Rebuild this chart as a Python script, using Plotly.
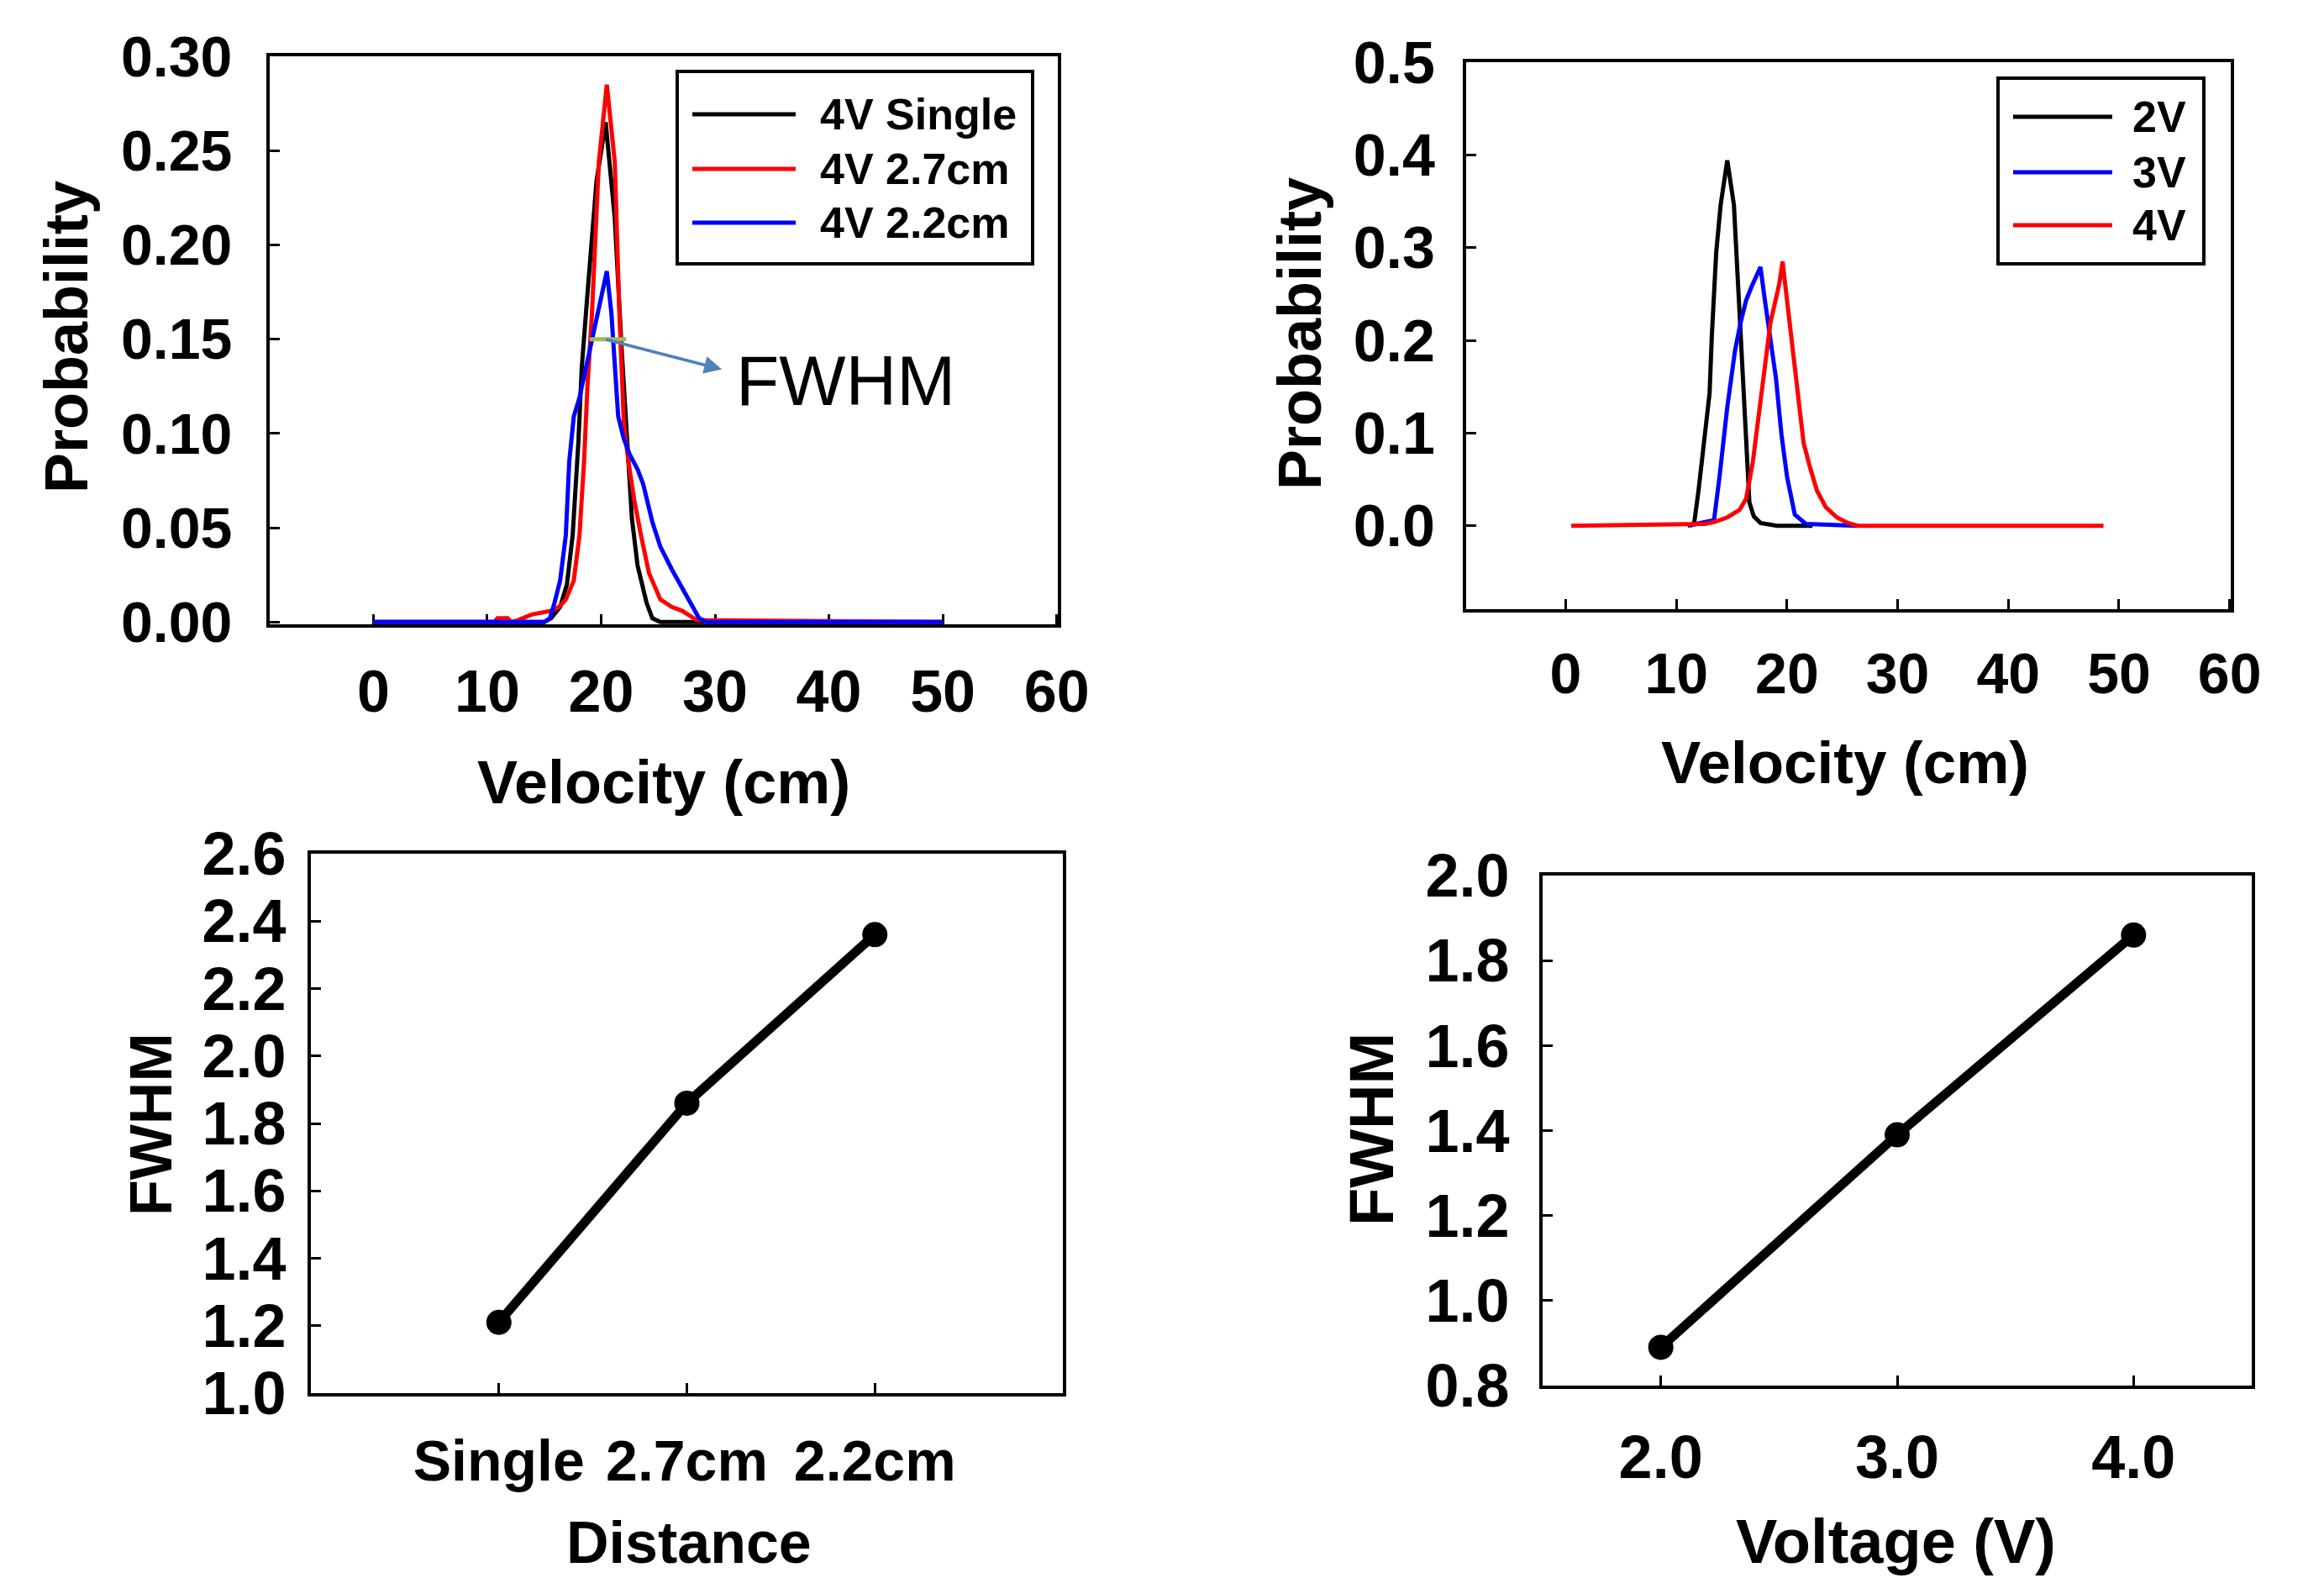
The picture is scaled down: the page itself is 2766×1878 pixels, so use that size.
import plotly.graph_objects as go

# ---- top-left: velocity distributions at 4V for different distances ----
vel_4v_single = [0, 15.0, 15.6, 16.4, 17.0, 17.5, 18.0, 18.3, 18.8, 19.6, 20.4, 21.2, 21.8, 22.3, 22.7, 23.2, 24.0, 24.5, 25.2, 50]
prob_4v_single = [0, 0.0, 0.002, 0.008, 0.020, 0.046, 0.095, 0.135, 0.174, 0.234, 0.265, 0.214, 0.145, 0.095, 0.055, 0.030, 0.010, 0.002, 0.0, 0]

vel_4v_27 = [0, 10.6, 10.9, 11.8, 12.1, 12.7, 13.9, 15.0, 15.6, 16.3, 16.9, 17.6, 18.1, 18.5, 18.8, 19.2, 19.8, 20.5, 21.2, 21.6,
             22.0, 22.4, 22.9, 23.5, 24.2, 25.2, 26.2, 27.1, 28.4, 50]
prob_4v_27 = [0, 0, 0.002, 0.002, 0, 0.001, 0.004, 0.005, 0.006, 0.008, 0.012, 0.022, 0.046, 0.085, 0.125, 0.164, 0.244, 0.285, 0.244, 0.164,
              0.105, 0.085, 0.065, 0.046, 0.026, 0.012, 0.008, 0.006, 0.001, 0]

vel_4v_22 = [0, 15.0, 15.5, 15.9, 16.4, 16.9, 17.2, 17.6, 18.1, 18.6, 19.1, 19.8, 20.5, 20.9, 21.3, 21.5, 22.0, 22.5, 23.2, 23.7,
             24.5, 25.2, 26.2, 27.1, 27.9, 28.6, 29.3, 50]
prob_4v_22 = [0, 0, 0.002, 0.010, 0.022, 0.046, 0.085, 0.109, 0.119, 0.133, 0.149, 0.168, 0.186, 0.164, 0.125, 0.109, 0.097, 0.089, 0.081, 0.073,
              0.053, 0.040, 0.028, 0.018, 0.010, 0.002, 0, 0]

# ---- top-right: velocity distributions for different voltages ----
vel_2v = [11.0, 11.6, 12.0, 12.6, 13.0, 13.2, 13.6, 14.0, 14.6, 15.2, 15.6, 16.0, 16.4, 16.6, 17.0, 17.6, 19.1, 22.3]
prob_2v = [0, 0.002, 0.038, 0.098, 0.143, 0.204, 0.295, 0.346, 0.394, 0.346, 0.249, 0.159, 0.068, 0.025, 0.010, 0.003, 0, 0]

vel_3v = [11.2, 11.8, 13.4, 13.9, 14.6, 15.3, 15.8, 16.3, 16.8, 17.6, 18.0, 18.5, 19.0, 19.5, 20.0, 20.7, 21.7, 26.3]
prob_3v = [0, 0.002, 0.006, 0.053, 0.128, 0.189, 0.219, 0.243, 0.258, 0.279, 0.243, 0.204, 0.159, 0.098, 0.053, 0.012, 0.002, 0]

vel_4v = [0.5, 12.6, 13.4, 14.6, 15.7, 16.3, 16.9, 17.5, 18.0, 18.5, 19.3, 19.6, 20.0, 20.5, 21.0, 21.5, 22.1, 22.7, 23.5, 24.5,
          25.5, 26.4, 48.6]
prob_4v = [0, 0.002, 0.004, 0.009, 0.017, 0.029, 0.068, 0.128, 0.174, 0.219, 0.261, 0.285, 0.243, 0.189, 0.143, 0.089, 0.062, 0.038, 0.020, 0.009,
           0.003, 0, 0]

# ---- bottom: FWHM summaries ----
distance_labels = ["Single", "2.7cm", "2.2cm"]
fwhm_distance = [1.21, 1.86, 2.36]
voltages = [2.0, 3.0, 4.0]
fwhm_voltage = [0.89, 1.39, 1.86]

legend_tl = ["4V Single", "4V 2.7cm", "4V 2.2cm"]
legend_tr = ["2V", "3V", "4V"]

FONT = "Liberation Sans, Arial, sans-serif"
PAGE_W, PAGE_H = 2766, 1878
OFF = 8  # default body margin of the html page
W, H = PAGE_W - OFF, PAGE_H - OFF


def px_x(p):
    return (p - OFF) / W


def px_y(p):
    return 1 - (p - OFF) / H


fig = go.Figure()

# top-left curves
for vel, prob, color, name in [
    (vel_4v_single, prob_4v_single, "black", legend_tl[0]),
    (vel_4v_27, prob_4v_27, "red", legend_tl[1]),
    (vel_4v_22, prob_4v_22, "blue", legend_tl[2]),
]:
    fig.add_trace(go.Scatter(x=vel, y=prob, mode="lines", name=name, line=dict(color=color, width=5),
                             xaxis="x", yaxis="y", showlegend=False))

# top-right curves
for vel, prob, color, name in [
    (vel_2v, prob_2v, "black", legend_tr[0]),
    (vel_3v, prob_3v, "blue", legend_tr[1]),
    (vel_4v, prob_4v, "red", legend_tr[2]),
]:
    fig.add_trace(go.Scatter(x=vel, y=prob, mode="lines", name=name, line=dict(color=color, width=5),
                             xaxis="x2", yaxis="y2", showlegend=False))

# bottom-left and bottom-right FWHM lines
fig.add_trace(go.Scatter(x=distance_labels, y=fwhm_distance, mode="lines+markers",
                         line=dict(color="black", width=11), marker=dict(color="black", size=30),
                         xaxis="x3", yaxis="y3", showlegend=False))
fig.add_trace(go.Scatter(x=voltages, y=fwhm_voltage, mode="lines+markers",
                         line=dict(color="black", width=11), marker=dict(color="black", size=30),
                         xaxis="x4", yaxis="y4", showlegend=False))


def axis(domain, rng, tick_size, standoff, **kw):
    d = dict(domain=domain, range=rng, showline=True, linecolor="black", linewidth=4, mirror=True,
             ticks="inside", ticklen=12, tickwidth=3, tickcolor="black", showgrid=False, zeroline=False,
             automargin=False,
             tickfont=dict(family=FONT, size=tick_size, color="black", weight="bold"),
             ticklabelstandoff=standoff)
    d.update(kw)
    return d


fig.update_layout(
    width=W, height=H,
    margin=dict(l=0, r=0, t=0, b=0),
    paper_bgcolor="white", plot_bgcolor="white",
    xaxis=axis([px_x(321), px_x(1259)], [-9.1, 60.1], 70, 16, anchor="y",
               tickvals=[0, 10, 20, 30, 40, 50, 60], layer="below traces"),
    yaxis=axis([px_y(743), px_y(67)], [-0.0012, 0.30], 68, 27, anchor="x",
               tickvals=[0, 0.05, 0.10, 0.15, 0.20, 0.25, 0.30], tickformat=".2f"),
    xaxis2=axis([px_x(1745), px_x(2655)], [-9.0, 60.1], 68, 14, anchor="y2",
                tickvals=[0, 10, 20, 30, 40, 50, 60]),
    yaxis2=axis([px_y(725), px_y(74)], [-0.09, 0.50], 70, 19, anchor="x2",
                tickvals=[0, 0.1, 0.2, 0.3, 0.4, 0.5], tickformat=".1f"),
    xaxis3=axis([px_x(370), px_x(1265)], [-1.0, 3.0], 68, 18, anchor="y3", type="category"),
    yaxis3=axis([px_y(1658), px_y(1016)], [1.0, 2.6], 72, 11, anchor="x3",
                tickvals=[1.0, 1.2, 1.4, 1.6, 1.8, 2.0, 2.2, 2.4, 2.6], tickformat=".1f"),
    xaxis4=axis([px_x(1836), px_x(2680)], [1.5, 4.5], 72, 20, anchor="y4",
                tickvals=voltages, tickformat=".1f"),
    yaxis4=axis([px_y(1649), px_y(1042)], [0.8, 2.0], 72, 21, anchor="x4",
                tickvals=[0.8, 1.0, 1.2, 1.4, 1.6, 1.8, 2.0], tickformat=".1f"),
)

# axis titles
titles = [
    ("Velocity (cm)", 790, 931, 0, 72),
    ("Probability", 79, 401, -90, 72),
    ("Velocity (cm)", 2196, 908, 0, 71),
    ("Probability", 1547, 397, -90, 72),
    ("Distance", 820, 1836, 0, 70),
    ("FWHM", 180, 1338, -90, 70),
    ("Voltage (V)", 2256, 1834, 0, 74),
    ("FWHM", 1632, 1344, -90, 74),
]
for text, x, y, ang, size in titles:
    fig.add_annotation(text=text, x=px_x(x), y=px_y(y), xref="paper", yref="paper",
                       showarrow=False, textangle=ang, xanchor="center", yanchor="middle",
                       font=dict(family=FONT, size=size, color="black", weight="bold"))

# FWHM marker in top-left panel
fig.add_shape(type="line", x0=19.0, x1=22.2, y0=0.15, y1=0.15, xref="x", yref="y",
              line=dict(color="#9BBB59", width=5))
fig.add_annotation(x=30.6, y=0.134, ax=20.3, ay=0.150, xref="x", yref="y", axref="x", ayref="y",
                   text="", showarrow=True, arrowhead=2, arrowsize=1.2, arrowwidth=3.5, arrowcolor="#4F81BD")
fig.add_annotation(x=41.5, y=0.128, xref="x", yref="y", text="FWHM", showarrow=False,
                   font=dict(family=FONT, size=84, color="black"))


# legends drawn as boxes
def draw_legend(box, line_x, line_ys, text_x, anchor, labels, colors, size):
    x0, y0, x1, y1 = box
    fig.add_shape(type="rect", xref="paper", yref="paper", x0=px_x(x0), x1=px_x(x1), y0=px_y(y1), y1=px_y(y0),
                  line=dict(color="black", width=4), fillcolor="white", layer="above")
    for ly, label, color in zip(line_ys, labels, colors):
        fig.add_shape(type="line", xref="paper", yref="paper", x0=px_x(line_x[0]), x1=px_x(line_x[1]),
                      y0=px_y(ly), y1=px_y(ly), line=dict(color=color, width=5))
        fig.add_annotation(text=label, x=px_x(text_x), y=px_y(ly), xref="paper", yref="paper",
                           showarrow=False, xanchor=anchor, yanchor="middle",
                           font=dict(family=FONT, size=size, color="black", weight="bold"))


draw_legend((806, 85, 1229, 314), (824, 947), [136, 201, 265], 974, "left",
            legend_tl, ["black", "red", "blue"], 52)
draw_legend((2378, 93, 2623, 314), (2396, 2514), [139, 205, 268], 2604, "right",
            legend_tr, ["black", "blue", "red"], 52)

fig.write_html("out.html")
